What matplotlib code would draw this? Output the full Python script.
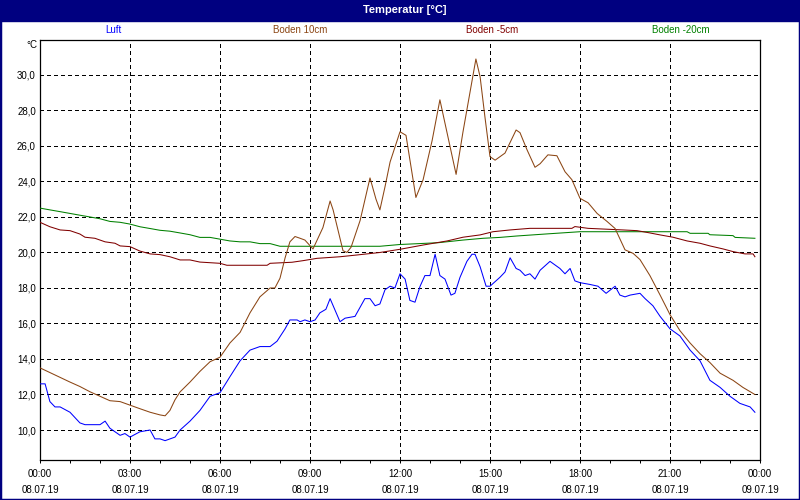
import numpy as np
import matplotlib
matplotlib.use("Agg")
import matplotlib.pyplot as plt
from matplotlib.patches import Rectangle

plt.rcParams['font.family'] = ['Liberation Sans', 'DejaVu Sans']

luft = [(0.00, 12.6), (0.17, 12.6), (0.33, 11.6), (0.50, 11.3), (0.67, 11.3), (1.00, 11.0),
        (1.33, 10.4), (1.50, 10.3), (2.00, 10.3), (2.17, 10.5), (2.33, 10.1), (2.67, 9.7),
        (2.83, 9.8), (3.00, 9.6), (3.33, 9.9), (3.67, 10.0), (3.83, 9.5), (4.00, 9.5),
        (4.17, 9.4), (4.50, 9.6), (4.67, 10.0), (5.00, 10.5), (5.33, 11.1), (5.67, 11.9),
        (6.00, 12.1), (6.33, 13.0), (6.67, 13.9), (7.00, 14.5), (7.33, 14.7), (7.67, 14.7),
        (7.90, 15.0), (8.17, 15.7), (8.33, 16.2), (8.57, 16.2), (8.67, 16.1), (8.83, 16.2),
        (9.00, 16.1), (9.17, 16.2), (9.33, 16.6), (9.53, 16.8), (9.67, 17.4), (10.00, 16.1),
        (10.17, 16.3), (10.50, 16.4), (10.83, 17.4), (11.00, 17.4), (11.17, 17.0), (11.33, 17.1),
        (11.50, 17.9), (11.67, 18.1), (11.83, 18.0), (12.00, 18.8), (12.17, 18.5), (12.33, 17.3),
        (12.50, 17.2), (12.67, 18.1), (12.83, 18.7), (13.00, 18.7), (13.17, 19.9), (13.33, 18.7),
        (13.50, 18.5), (13.70, 17.6), (13.83, 17.7), (14.00, 18.6), (14.23, 19.5), (14.40, 19.9),
        (14.50, 19.9), (14.67, 19.2), (14.87, 18.1), (15.00, 18.1), (15.33, 18.6), (15.50, 18.9),
        (15.67, 19.7), (15.87, 19.1), (16.00, 19.0), (16.17, 18.7), (16.33, 18.8), (16.50, 18.5),
        (16.67, 19.0), (17.00, 19.5), (17.33, 19.1), (17.50, 18.8), (17.67, 19.1), (17.83, 18.4),
        (18.00, 18.3), (18.33, 18.2), (18.60, 18.1), (18.87, 17.7), (19.17, 18.1), (19.33, 17.6),
        (19.50, 17.5), (19.67, 17.6), (20.00, 17.7), (20.17, 17.4), (20.43, 17.0), (20.67, 16.4),
        (21.00, 15.7), (21.33, 15.3), (21.67, 14.5), (22.00, 13.9), (22.33, 12.8), (22.67, 12.4),
        (23.00, 11.9), (23.33, 11.5), (23.67, 11.3), (23.83, 11.0)]

boden_10 = [(0.00, 13.5), (0.50, 13.1), (1.00, 12.7), (1.33, 12.45), (1.67, 12.15), (2.00, 11.9),
            (2.33, 11.65), (2.67, 11.6), (3.00, 11.4), (3.33, 11.2), (3.67, 11.0), (4.00, 10.85),
            (4.17, 10.8), (4.33, 11.1), (4.50, 11.7), (4.67, 12.15), (5.00, 12.7), (5.33, 13.3),
            (5.67, 13.85), (6.00, 14.1), (6.33, 14.9), (6.67, 15.5), (7.00, 16.6), (7.33, 17.5),
            (7.67, 18.0), (7.83, 18.0), (8.00, 18.55), (8.17, 19.7), (8.33, 20.6), (8.50, 20.9),
            (8.67, 20.8), (8.83, 20.7), (9.10, 20.2), (9.43, 21.4), (9.67, 22.9), (9.77, 22.4),
            (10.10, 20.1), (10.23, 20.0), (10.37, 20.3), (10.67, 21.8), (11.00, 24.2), (11.20, 23.0),
            (11.33, 22.4), (11.50, 23.7), (11.67, 25.1), (12.00, 26.8), (12.20, 26.6), (12.53, 23.1),
            (12.77, 24.1), (13.07, 26.3), (13.33, 28.6), (13.87, 24.4), (14.10, 26.8), (14.53, 30.9),
            (14.67, 29.9), (14.83, 27.65), (15.00, 25.4), (15.17, 25.2), (15.50, 25.6), (15.87, 26.9),
            (16.00, 26.75), (16.23, 25.8), (16.50, 24.8), (16.67, 25.0), (16.93, 25.5), (17.23, 25.45),
            (17.50, 24.55), (17.73, 24.1), (18.00, 23.05), (18.27, 22.8), (18.57, 22.2), (18.90, 21.75),
            (19.17, 21.35), (19.50, 20.15), (19.77, 19.95), (20.00, 19.6), (20.33, 18.7), (20.67, 17.6),
            (21.00, 16.5), (21.33, 15.6), (21.67, 14.9), (22.00, 14.3), (22.33, 13.8), (22.67, 13.2),
            (23.10, 12.8), (23.43, 12.4), (23.83, 12.0)]

boden_m5 = [(0.00, 21.7), (0.33, 21.45), (0.67, 21.27), (1.00, 21.23), (1.33, 21.04), (1.50, 20.86),
            (1.83, 20.8), (2.17, 20.6), (2.50, 20.52), (2.67, 20.37), (3.00, 20.33), (3.33, 20.08),
            (3.67, 19.92), (4.00, 19.88), (4.33, 19.76), (4.67, 19.58), (5.00, 19.58), (5.33, 19.46),
            (6.00, 19.39), (6.23, 19.28), (7.57, 19.28), (7.67, 19.39), (8.40, 19.45), (8.77, 19.54),
            (9.23, 19.67), (10.00, 19.76), (10.57, 19.86), (11.33, 20.0), (12.00, 20.18), (12.77, 20.42),
            (13.57, 20.65), (14.10, 20.86), (14.67, 20.99), (15.10, 21.17), (15.67, 21.27), (16.33, 21.36),
            (17.73, 21.36), (17.83, 21.46), (18.27, 21.36), (19.43, 21.27), (19.90, 21.23), (20.27, 21.12),
            (20.67, 20.99), (21.10, 20.86), (21.57, 20.65), (22.00, 20.52), (22.33, 20.37), (22.77, 20.2),
            (23.10, 20.05), (23.50, 19.92), (23.77, 19.92), (23.83, 19.76)]

boden_m20 = [(0.00, 22.5), (0.33, 22.4), (0.67, 22.3), (1.00, 22.2), (1.33, 22.1), (1.67, 22.0),
             (2.00, 21.9), (2.33, 21.75), (2.67, 21.7), (3.00, 21.6), (3.33, 21.45), (3.67, 21.35),
             (4.00, 21.25), (4.33, 21.2), (4.67, 21.1), (5.00, 21.0), (5.33, 20.85), (5.67, 20.85),
             (6.00, 20.75), (6.33, 20.65), (6.67, 20.6), (7.00, 20.6), (7.33, 20.5), (7.67, 20.5),
             (8.00, 20.35), (11.33, 20.35), (12.00, 20.45), (13.27, 20.55), (14.10, 20.7), (14.77, 20.8),
             (15.33, 20.85), (15.90, 20.93), (16.93, 21.05), (18.00, 21.17), (21.57, 21.17), (21.67, 21.08),
             (22.27, 21.08), (22.33, 21.0), (23.10, 20.95), (23.17, 20.85), (23.83, 20.8)]

series_names = ["Luft", "Boden 10cm", "Boden -5cm", "Boden -20cm"]
series_colors = ["#0000ff", "#8b4513", "#800000", "#008000"]
x_ticks = [0, 3, 6, 9, 12, 15, 18, 21, 24]
x_labels = ["00:00\n08.07.19", "03:00\n08.07.19", "06:00\n08.07.19", "09:00\n08.07.19",
            "12:00\n08.07.19", "15:00\n08.07.19", "18:00\n08.07.19", "21:00\n08.07.19",
            "00:00\n09.07.19"]
y_ticks = [10, 12, 14, 16, 18, 20, 22, 24, 26, 28, 30]

W, H = 800, 500
fig = plt.figure(figsize=(8, 5), dpi=100, facecolor="white")
ax = fig.add_axes([40/W, 1-460/H, 720/W, 420/H])

for pts, col in zip([boden_m20, boden_m5, boden_10, luft], [series_colors[3], series_colors[2], series_colors[1], series_colors[0]]):
    t = [p[0] for p in pts]
    v = [p[1] for p in pts]
    ax.plot(t, v, color=col, lw=0.75, zorder=3)

ax.set_xlim(0, 24)
ax.set_ylim(8.31, 31.97)
ax.set_xticks(x_ticks)
ax.set_xticklabels(x_labels, fontsize=7, linespacing=1.75)
ax.set_xticks(range(25), minor=True)
ax.set_yticks(y_ticks)
ax.set_yticklabels([f"{v:.1f}".replace(".", ",") for v in y_ticks], fontsize=7)
ax.tick_params(axis="x", which="both", direction="out", length=2.2, width=0.72, pad=4)
ax.tick_params(axis="y", length=0, pad=3)
ax.grid(True, color="black", linestyle=(0, (3, 3)), lw=0.72, antialiased=False)
for s in ax.spines.values():
    s.set_linewidth(0.9)

# Titelleiste und Rahmen
fig.add_artist(Rectangle((0, 1-21/H), 1, 21/H, transform=fig.transFigure, color="#000080", zorder=0))
fig.add_artist(Rectangle((0, 0), 1, 1, transform=fig.transFigure, fill=False, edgecolor="#000080", lw=2.5))
fig.text(405/W, 1-10/H, "Temperatur [°C]", color="white", fontsize=8, fontweight="bold", ha="center", va="center")

for name, col, xp in zip(series_names, series_colors, [113, 300, 492, 681]):
    fig.text(xp/W, 1-30/H, name, color=col, fontsize=7, ha="center", va="center")

fig.text(37/W, 1-45/H, "°C", fontsize=7, ha="right", va="center")

plt.savefig("out.png", dpi=100, facecolor="white")
